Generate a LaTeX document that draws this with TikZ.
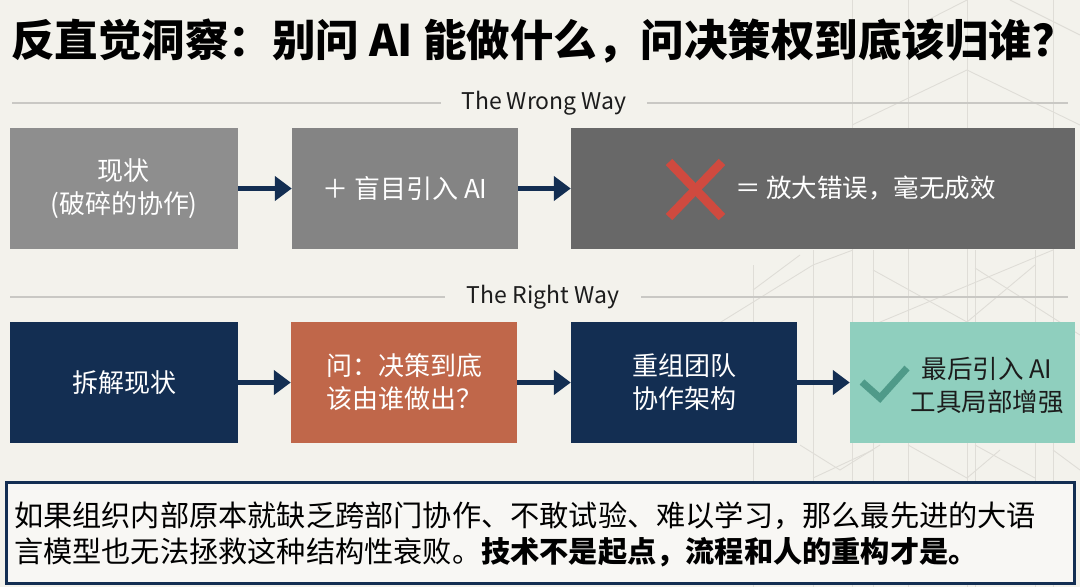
\documentclass[tikz,border=0pt]{standalone}
\usepackage{fontspec}
\setmainfont{Noto Sans CJK SC}
\usetikzlibrary{arrows.meta}
\definecolor{bg}{HTML}{F3F2EC}
\definecolor{navy}{HTML}{132E52}
\definecolor{gA}{HTML}{8E8E8E}
\definecolor{gB}{HTML}{848484}
\definecolor{gC}{HTML}{686868}
\definecolor{rust}{HTML}{C0674A}
\definecolor{mint}{HTML}{8FCFBE}
\definecolor{redx}{HTML}{D04A3F}
\definecolor{tick}{HTML}{4F9A89}
\definecolor{sep}{HTML}{C9C8C4}
\definecolor{art}{HTML}{DFDDD7}
\definecolor{ink}{HTML}{1C1C1C}
\tikzset{
  box/.style={draw=none, minimum height=121pt, inner sep=0pt, align=center,
    font=\fontsize{26}{33}\selectfont, text=white},
  flow/.style={draw=navy, line width=5pt, -{Triangle[length=17pt,width=24pt]}, shorten <=0pt},
  seplabel/.style={font=\fontsize{23}{26}\selectfont, text=ink, inner sep=0pt},
  sepline/.style={draw=sep, line width=1.6pt},
  artline/.style={draw=art, line width=0.9pt},
}
\begin{document}
\begin{tikzpicture}[x=1pt,y=-1pt]
\useasboundingbox (0,0) rectangle (1080,587);
\fill[bg] (0,0) rectangle (1080,587);
% background line art
\foreach \x/\a in {753/265,813/250,852/0,873/250,908/0,967/0,975/250,1035/250,1053/0}{
  \draw[artline] (\x,\a) -- (\x,587);
}
\draw[artline] (852,125) -- (967,70) -- (1080,125);
\draw[artline] (908,30) -- (967,0);
\draw[artline] (1010,0) -- (1080,35);
\draw[artline] (700,335) -- (813,265) -- (853,250);
\draw[artline] (753,290) -- (800,255);
\draw[artline] (873,270) -- (967,322) -- (1035,265);
\draw[artline] (873,325) -- (1053,250);
\draw[artline] (975,268) -- (1080,335);
\draw[artline] (800,445) -- (840,470) -- (880,445);
\draw[artline] (908,445) -- (967,478) -- (1000,450);
\draw[artline] (975,445) -- (1035,478);
\draw[artline] (1053,450) -- (1080,470);
\draw[artline] (813,478) -- (873,450);

% title
\node[anchor=west, inner sep=0pt, font=\fontsize{43.5}{46}\bfseries\selectfont, text=black] (title) at (11,41) {反直觉洞察：别问 AI 能做什么，问决策权到底该归谁？};

% Wrong way
\node[seplabel] (wl) at (544,103) {The Wrong Way};
\coordinate (wl0) at (12,103);
\coordinate (wl1) at (1068,103);
\draw[sepline] (wl0) -- ([xshift=-20pt]wl.west);
\draw[sepline] ([xshift=20pt]wl.east) -- (wl1);

\node[box, fill=gA, minimum width=228pt] (w1) at (124,188.5) {现状\\(破碎的协作)};
\node[box, fill=gB, minimum width=226pt] (w2) at (405,188.5) {＋ 盲目引入 AI};
\node[box, fill=gC, minimum width=504pt] (w3) at (823,188.5) {};
\node[anchor=west, inner sep=0pt, font=\fontsize{25.5}{30}\selectfont, text=white] (w3t) at (735,188) {＝ 放大错误，毫无成效};
\coordinate (xa) at (669,162);
\coordinate (xb) at (722,217);
\coordinate (xc) at (669,217);
\coordinate (xd) at (722,162);
\draw[redx, line width=9pt] (xa) -- (xb);
\draw[redx, line width=9pt] (xc) -- (xd);
\draw[flow] (w1.east) -- (w2.west);
\draw[flow] (w2.east) -- (w3.west);

% Right way
\node[seplabel] (rl) at (543,297) {The Right Way};
\coordinate (rl0) at (10,297);
\coordinate (rl1) at (1068,297);
\draw[sepline] (rl0) -- ([xshift=-22pt]rl.west);
\draw[sepline] ([xshift=22pt]rl.east) -- (rl1);

\node[box, fill=navy, minimum width=228pt] (r1) at (124,382.5) {拆解现状};
\node[box, fill=rust, minimum width=226pt] (r2) at (404,382.5) {问：决策到底\\该由谁做出？};
\node[box, fill=navy, minimum width=226pt] (r3) at (684,382.5) {重组团队\\协作架构};
\node[box, fill=mint, minimum width=225pt] (r4) at (962.5,382.5) {};
\node[inner sep=0pt, align=center, font=\fontsize{25.5}{33}\selectfont, text=ink] (r4t) at (987,386) {最后引入 AI\\工具局部增强};
\coordinate (ck1) at (862,382);
\coordinate (ck2) at (880,398);
\coordinate (ck3) at (907,368);
\draw[tick, line width=7pt] (ck1) -- (ck2) -- (ck3);
\draw[flow] (r1.east) -- (r2.west);
\draw[flow] (r2.east) -- (r3.west);
\draw[flow] (r3.east) -- (r4.west);

% bottom note
\node[draw=navy, line width=2.5pt, fill=bg!60!white, minimum width=1068pt, minimum height=101pt, inner sep=0pt] (note) at (540.5,533) {};
\node[anchor=west, inner sep=0pt, align=left, font=\fontsize{29.2}{36}\selectfont, text=black] (notet) at (14,534) {如果组织内部原本就缺乏跨部门协作、不敢试验、难以学习，那么最先进的大语\\言模型也无法拯救这种结构性衰败。\textbf{技术不是起点，流程和人的重构才是。}};
\end{tikzpicture}
\end{document}
